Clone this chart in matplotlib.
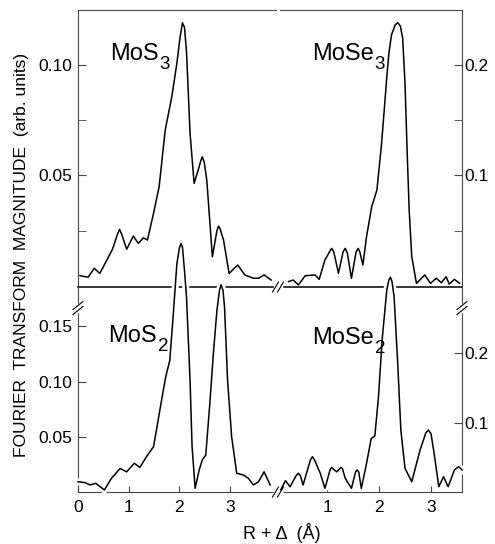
import numpy as np
import matplotlib
matplotlib.use("Agg")
import matplotlib.pyplot as plt
from matplotlib.lines import Line2D

plt.rcParams['font.family'] = ['Liberation Sans', 'DejaVu Sans']
plt.rcParams['mathtext.default'] = 'regular'

# MoS3, top left panel (left scale)
mos3_r = [0.04, 0.14, 0.20, 0.32, 0.43, 0.57, 0.68, 0.78, 0.82, 0.86, 0.96, 1.09,
          1.19, 1.29, 1.37, 1.49, 1.60, 1.72, 1.85, 1.95, 2.01, 2.06, 2.10, 2.14,
          2.21, 2.29, 2.37, 2.42, 2.45, 2.49, 2.54, 2.65, 2.74, 2.77, 2.80, 2.87,
          2.98, 3.15, 3.29, 3.46, 3.56, 3.67, 3.81]
mos3_ft = [0.0047, 0.0042, 0.0040, 0.0080, 0.0057, 0.0118, 0.0166, 0.0235, 0.0256,
           0.0235, 0.0166, 0.0226, 0.0193, 0.0218, 0.0208, 0.0329, 0.0449, 0.0705,
           0.0856, 0.1007, 0.112, 0.119, 0.117, 0.106, 0.069, 0.0464, 0.0524, 0.0565,
           0.0584, 0.0560, 0.0479, 0.0132, 0.025, 0.0271, 0.026, 0.0208, 0.0057,
           0.0095, 0.0050, 0.0035, 0.0035, 0.0050, 0.0027]

# MoSe3, top right panel (right scale)
mose3_r = [0.26, 0.35, 0.45, 0.58, 0.77, 0.85, 0.96, 1.05, 1.09, 1.13, 1.22, 1.31,
           1.35, 1.39, 1.47, 1.56, 1.60, 1.63, 1.69, 1.76, 1.86, 1.96, 2.05, 2.10,
           2.15, 2.19, 2.24, 2.31, 2.36, 2.41, 2.455, 2.50, 2.54, 2.58, 2.63, 2.72,
           2.88, 2.99, 3.10, 3.20, 3.29, 3.35, 3.45, 3.55]
mose3_ft = [0.004, 0.0054, 0.001, 0.0093, 0.010, 0.006, 0.0235, 0.031, 0.034, 0.031,
            0.0115, 0.031, 0.034, 0.030, 0.007, 0.031, 0.034, 0.031, 0.019, 0.0446,
            0.0717, 0.0868, 0.129, 0.159, 0.189, 0.2104, 0.2269, 0.236, 0.238, 0.235,
            0.224, 0.183, 0.123, 0.0687, 0.0265, 0.0024, 0.010, 0.0024, 0.007, 0.003,
            0.0084, 0.0018, 0.006, 0.0024]

# MoS2, bottom left panel (left scale)
mos2_r = [0.00, 0.14, 0.24, 0.35, 0.52, 0.66, 0.83, 0.96, 1.11, 1.22, 1.35, 1.49,
          1.57, 1.66, 1.73, 1.81, 1.88, 1.95, 2.00, 2.03, 2.06, 2.10, 2.14, 2.21,
          2.25, 2.31, 2.39, 2.45, 2.52, 2.60, 2.67, 2.74, 2.79, 2.82, 2.86, 2.89,
          2.95, 3.03, 3.13, 3.26, 3.36, 3.46, 3.56, 3.67, 3.79]
mos2_ft = [0.0101, 0.0093, 0.0072, 0.0087, 0.0027, 0.0132, 0.0220, 0.0190, 0.0267,
           0.0230, 0.0326, 0.0416, 0.0626, 0.0865, 0.1044, 0.1190, 0.161, 0.206,
           0.220, 0.224, 0.221, 0.200, 0.176, 0.101, 0.0416, 0.0042, 0.0207, 0.0296,
           0.0340, 0.0805, 0.1254, 0.164, 0.182, 0.187, 0.182, 0.167, 0.101, 0.0506,
           0.0177, 0.0162, 0.0132, 0.0072, 0.0101, 0.0190, 0.0072]

# MoSe2, bottom right panel (right scale)
mose2_r = [0.11, 0.20, 0.29, 0.41, 0.45, 0.49, 0.54, 0.68, 0.72, 0.76, 0.87, 0.96,
           1.06, 1.09, 1.12, 1.19, 1.25, 1.27, 1.30, 1.35, 1.47, 1.55, 1.58, 1.61,
           1.66, 1.76, 1.85, 1.92, 1.99, 2.06, 2.15, 2.19, 2.22, 2.25, 2.29, 2.36,
           2.42, 2.50, 2.63, 2.79, 2.90, 2.95, 3.00, 3.05, 3.15, 3.24, 3.33, 3.45,
           3.53, 3.60]
mose2_ft = [0.003, 0.0163, 0.0076, 0.024, 0.027, 0.023, 0.010, 0.046, 0.0508, 0.046,
            0.027, 0.0053, 0.032, 0.0355, 0.033, 0.029, 0.034, 0.0355, 0.033, 0.0197,
            0.0053, 0.029, 0.0317, 0.029, 0.0053, 0.041, 0.077, 0.0806, 0.137, 0.219,
            0.291, 0.305, 0.309, 0.303, 0.281, 0.185, 0.089, 0.034, 0.0148, 0.0605,
            0.085, 0.089, 0.084, 0.0605, 0.0076, 0.022, 0.0076, 0.0317, 0.0365, 0.0317]

W, H = 495, 544
SPINE = '#444444'
NARROW = ['Liberation Sans Narrow', 'Liberation Sans', 'DejaVu Sans']


def box(x0, y0, x1, y1):
    # pixel rectangle (measured from top left of the image) -> figure fraction
    return [x0 / W, 1 - y1 / H, (x1 - x0) / W, (y1 - y0) / H]


def fx(px):
    return px / W


def fy(py):
    return 1 - py / H


fig = plt.figure(figsize=(W / 100, H / 100), dpi=100)

ax_tl = fig.add_axes(box(78, 10, 276, 287))
ax_tr = fig.add_axes(box(280, 10, 462, 287))
ax_bl = fig.add_axes(box(78, 287, 276, 492))
ax_br = fig.add_axes(box(280, 287, 462, 492))

ax_tl.set_xlim(0, 3.905)
ax_bl.set_xlim(0, 3.905)
ax_tr.set_xlim(0.096, 3.596)
ax_br.set_xlim(0.096, 3.596)

ax_tl.set_ylim(-0.00045, 0.1248)
ax_tr.set_ylim(-0.0009, 0.2495)
ax_bl.set_ylim(0.0009, 0.185)
ax_br.set_ylim(0.0, 0.295)

for ax in (ax_tl, ax_tr, ax_bl, ax_br):
    ax.set_facecolor('none')
    for s in ax.spines.values():
        s.set_color(SPINE)
        s.set_linewidth(0.8)
    ax.tick_params(which='both', direction='in', colors='black', labelsize=12.5)
    ax.tick_params(which='both', color=SPINE)

# top row: zero line at the bottom, no x ticks
ax_tl.spines['right'].set_visible(False)
ax_tr.spines['left'].set_visible(False)
ax_tl.spines['bottom'].set_color('black')
ax_tr.spines['bottom'].set_color('black')
ax_tl.spines['bottom'].set_linewidth(1.1)
ax_tr.spines['bottom'].set_linewidth(1.1)
for ax in (ax_tl, ax_tr):
    ax.set_xticks([])

ax_tl.set_yticks([0.05, 0.10])
ax_tl.set_yticklabels(['0.05', '0.10'])
ax_tl.set_yticks([0.025, 0.075], minor=True)
ax_tl.tick_params(which='both', length=6, pad=4)

ax_tr.yaxis.tick_right()
ax_tr.set_yticks([0.1, 0.2])
ax_tr.set_yticklabels(['0.1', '0.2'])
ax_tr.set_yticks([0.05, 0.15], minor=True)
ax_tr.tick_params(which='both', length=6, pad=1.5)

# bottom row
ax_bl.spines['top'].set_visible(False)
ax_bl.spines['right'].set_visible(False)
ax_br.spines['top'].set_visible(False)
ax_br.spines['left'].set_visible(False)

ax_bl.set_yticks([0.05, 0.10, 0.15])
ax_bl.set_yticklabels(['0.05', '0.10', '0.15'])
ax_bl.set_xticks([0, 1, 2, 3])
ax_bl.tick_params(axis='y', length=6, pad=4)
ax_bl.tick_params(axis='x', length=4.5, pad=6)

ax_br.yaxis.tick_right()
ax_br.set_yticks([0.1, 0.2])
ax_br.set_yticklabels(['0.1', '0.2'])
ax_br.set_xticks([1, 2, 3])
ax_br.tick_params(axis='y', length=6, pad=1.5)
ax_br.tick_params(axis='x', length=4.5, pad=6)

# curves
ax_tl.plot(mos3_r, mos3_ft, color='black', lw=1.1, solid_joinstyle='round')
ax_tr.plot(mose3_r, mose3_ft, color='black', lw=1.1, solid_joinstyle='round')

# lower spectra run up through the zero line of the upper ones;
# a white halo close to that line opens the gaps seen in the print
band = plt.Rectangle((fx(78), fy(296)), fx(384), 12 / H, transform=fig.transFigure)
for ax, r, ft in ((ax_bl, mos2_r, mos2_ft), (ax_br, mose2_r, mose2_ft)):
    halo, = ax.plot(r, ft, color='white', lw=5, clip_on=False, zorder=3)
    halo.set_clip_path(band)
    ax.plot(r, ft, color='black', lw=1.1, clip_on=False, zorder=4,
            solid_joinstyle='round')


def brk(px, py, on_vertical):
    # "//" break mark centred on pixel (px, py)
    if on_vertical:
        fig.add_artist(Line2D([fx(px), fx(px)], [fy(py - 3), fy(py + 3)],
                              color='white', lw=2.5))
        for off in (-2.5, 2.5):
            fig.add_artist(Line2D([fx(px - 5), fx(px + 5)],
                                  [fy(py + 4 + off), fy(py - 4 + off)],
                                  color='black', lw=0.8))
    else:
        fig.add_artist(Line2D([fx(px - 3), fx(px + 3)], [fy(py), fy(py)],
                              color='white', lw=2.5))
        for off in (-2.5, 2.5):
            fig.add_artist(Line2D([fx(px - 3 + off), fx(px + 3 + off)],
                                  [fy(py + 5), fy(py - 5)],
                                  color='black', lw=0.8))


brk(278, 287, False)
brk(278, 492, False)
brk(78, 308, True)
brk(462, 308, True)


# panel names: big, well-lowered subscripts as in the print
renderer = fig.canvas.get_renderer()


def formula(px, py, base, sub):
    t = fig.text(fx(px), fy(py), base, fontsize=17, family=NARROW, va='baseline')
    bb = t.get_window_extent(renderer=renderer)
    fig.text((bb.x1 + 1) / W, fy(py + 9), sub, fontsize=13.5, family=NARROW,
             va='baseline')


formula(110, 60, 'MoS', '3')
formula(312, 60, 'MoSe', '3')
formula(108, 342, 'MoS', '2')
formula(312, 344, 'MoSe', '2')

fig.text(fx(22), fy(255), 'FOURIER  TRANSFORM  MAGNITUDE  (arb. units)',
         rotation=90, ha='center', va='center', fontsize=12.5)
fig.text(fx(282), fy(533), 'R + \u0394  (\u00c5)', ha='center', va='center',
         fontsize=13)

fig.savefig('out.png', dpi=100)
